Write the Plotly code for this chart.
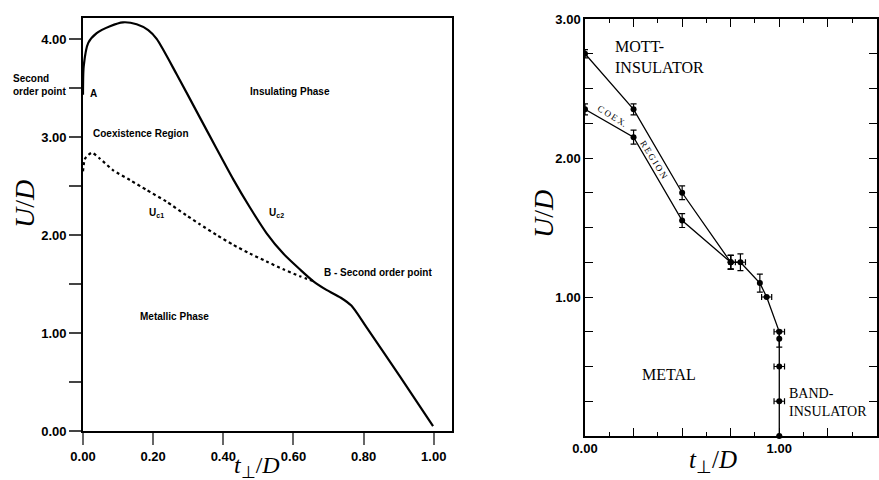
import plotly.graph_objects as go

# ---------------- data: left panel ----------------
uc2_t = [0, 0.002, 0.015, 0.039, 0.077, 0.114, 0.153, 0.186, 0.21, 0.267, 0.333, 0.381, 0.428,
         0.476, 0.523, 0.571, 0.618, 0.656, 0.694, 0.735, 0.765, 0.808, 0.903, 0.998]
uc2_U = [3.43, 3.72, 3.96, 4.06, 4.13, 4.17, 4.15, 4.09, 4.00, 3.64, 3.20, 2.88, 2.57,
         2.28, 2.02, 1.81, 1.65, 1.53, 1.44, 1.36, 1.28, 1.06, 0.56, 0.05]
uc1_t = [0, 0.006, 0.025, 0.048, 0.086, 0.134, 0.181, 0.238, 0.295, 0.333, 0.381, 0.428,
         0.476, 0.523, 0.571, 0.618, 0.656]
uc1_U = [2.65, 2.78, 2.84, 2.78, 2.66, 2.56, 2.46, 2.34, 2.20, 2.11, 2.00, 1.90,
         1.81, 1.73, 1.65, 1.58, 1.53]
left_xticks = [0, 0.2, 0.4, 0.6, 0.8, 1.0]
left_xlabels = ["0.00", "0.20", "0.40", "0.60", "0.80", "1.00"]
left_yticks = [0, 0.5, 1, 1.5, 2, 2.5, 3, 3.5, 4]
left_ylabels = ["0.00", "", "1.00", "", "2.00", "", "3.00", "", "4.00"]

# ---------------- data: right panel ----------------
up_t = [0, 0.25, 0.5, 0.75]
up_U = [2.75, 2.35, 1.75, 1.25]
up_err = [0.03, 0.04, 0.05, 0.05]
lo_t = [0, 0.25, 0.5, 0.75]
lo_U = [2.35, 2.15, 1.55, 1.25]
lo_err = [0.04, 0.05, 0.05, 0.05]
co_t = [0.75, 0.80, 0.90, 0.935, 1.0, 1.0, 1.0, 1.0, 1.0]
co_U = [1.25, 1.25, 1.10, 1.00, 0.75, 0.70, 0.50, 0.25, 0.0]
co_yerr = [0.05, 0.06, 0.065, 0, 0, 0.06, 0, 0, 0]
co_xerr = [0, 0.026, 0, 0.026, 0.027, 0, 0.027, 0.027, 0]
right_xticks = [0, 0.25, 0.5, 0.75, 1.0, 1.25, 1.5]
right_xlabels = ["0.00", "", "", "", "1.00", "", ""]
right_yticks = [0, 0.25, 0.5, 0.75, 1.0, 1.25, 1.5, 1.75, 2.0, 2.25, 2.5, 2.75, 3.0]
right_ylabels = ["", "", "", "", "1.00", "", "", "", "2.00", "", "", "", "3.00"]

W, H = 879, 480
SANS = "Liberation Sans, Arial, sans-serif"
SERIF = "Liberation Serif, Times New Roman, serif"


def px(x, y):
    return x / W, 1 - y / H


fig = go.Figure()

# left panel curves
fig.add_trace(go.Scatter(x=uc2_t, y=uc2_U, mode="lines", xaxis="x", yaxis="y",
                         line=dict(color="black", width=2.2, shape="spline", smoothing=0.7),
                         showlegend=False, hoverinfo="skip"))
fig.add_trace(go.Scatter(x=uc1_t, y=uc1_U, mode="lines", xaxis="x", yaxis="y",
                         line=dict(color="black", width=2.2, dash="dot", shape="spline", smoothing=0.6),
                         showlegend=False, hoverinfo="skip"))

# right panel
eb = dict(color="black", thickness=1.2, width=3)
fig.add_trace(go.Scatter(x=up_t, y=up_U, mode="lines+markers", xaxis="x2", yaxis="y2",
                         line=dict(color="black", width=1.3),
                         marker=dict(color="black", size=6),
                         error_y=dict(type="data", array=up_err, visible=True, **eb),
                         showlegend=False, hoverinfo="skip"))
fig.add_trace(go.Scatter(x=lo_t, y=lo_U, mode="lines+markers", xaxis="x2", yaxis="y2",
                         line=dict(color="black", width=1.3),
                         marker=dict(color="black", size=6),
                         error_y=dict(type="data", array=lo_err, visible=True, **eb),
                         showlegend=False, hoverinfo="skip"))
fig.add_trace(go.Scatter(x=co_t, y=co_U, mode="lines+markers", xaxis="x2", yaxis="y2",
                         line=dict(color="black", width=1.3),
                         marker=dict(color="black", size=6),
                         error_y=dict(type="data", array=co_yerr, visible=True, **eb),
                         error_x=dict(type="data", array=co_xerr, visible=True, **eb),
                         showlegend=False, hoverinfo="skip", cliponaxis=False))

tickfont = dict(family=SANS, size=13, color="black")

fig.update_layout(
    width=W, height=H,
    margin=dict(l=0, r=0, t=0, b=0, autoexpand=False),
    paper_bgcolor="white", plot_bgcolor="white",
    xaxis=dict(domain=[83 / W, 452 / W], range=[0, 1.052], anchor="y", automargin=False,
               tickvals=left_xticks, ticktext=["<b>%s</b>" % s for s in left_xlabels],
               ticks="outside", ticklen=12, tickwidth=1.5, tickcolor="#666",
               showline=True, linecolor="black", linewidth=1.8, mirror=True,
               showgrid=False, zeroline=False, tickfont=tickfont),
    yaxis=dict(domain=[1 - 431 / H, 1 - 18 / H], range=[0, 4.214], anchor="x", automargin=False,
               tickvals=left_yticks,
               ticktext=["<b>%s</b>" % s if s else " " for s in left_ylabels],
               ticks="outside", ticklen=12, tickwidth=1.5, tickcolor="#444",
               showline=True, linecolor="black", linewidth=1.8, mirror=True,
               showgrid=False, zeroline=False, tickfont=tickfont),
    xaxis2=dict(domain=[585 / W, 877 / W], range=[0, 1.503], anchor="y2", automargin=False,
                tickvals=right_xticks,
                ticktext=["<b>%s</b>" % s if s else " " for s in right_xlabels],
                ticks="inside", ticklen=8, tickwidth=1.2, tickcolor="black",
                minor=dict(dtick=0.125, tick0=0, ticks="inside", ticklen=4, tickwidth=1.2,
                           tickcolor="black", showgrid=False),
                showline=True, linecolor="black", linewidth=1.5, mirror="ticks",
                showgrid=False, zeroline=False, tickfont=tickfont),
    yaxis2=dict(domain=[1 - 436 / H, 1 - 19 / H], range=[0, 3.0], anchor="x2", automargin=False,
                tickvals=right_yticks,
                ticktext=["<b>%s</b>" % s if s else " " for s in right_ylabels],
                ticks="inside", ticklen=8, tickwidth=1.2, tickcolor="black",
                showline=True, linecolor="black", linewidth=1.5, mirror="ticks",
                showgrid=False, zeroline=False, tickfont=tickfont),
)

ann = []


def add(text, x, y, size=10, family=SANS, xanchor="left", yanchor="middle", angle=0, bold=False, align="left"):
    t = text
    if bold:
        t = "<b>%s</b>" % t
    xx, yy = px(x, y)
    ann.append(dict(text=t, x=xx, y=yy, xref="paper", yref="paper", showarrow=False,
                    xanchor=xanchor, yanchor=yanchor, textangle=angle, align=align,
                    font=dict(family=family, size=size, color="black")))


# axis titles
add("<i>U</i>/<i>D</i>", 24, 204, size=28, family=SERIF, xanchor="center", angle=-90, align="center")
add("<i>t</i><sub>⊥</sub>/<i>D</i>", 257, 467, size=24, family=SERIF, xanchor="center", align="center")
add("<i>U</i>/<i>D</i>", 543, 214, size=28, family=SERIF, xanchor="center", angle=-90, align="center")
add("<i>t</i><sub>⊥</sub>/<i>D</i>", 713, 461, size=25, family=SERIF, xanchor="center", align="center")

# left panel labels
add("Second<br>order point", 68, 85, size=10, xanchor="right", bold=True)
add("A", 88, 94, size=10, bold=True)
add("Insulating Phase", 248, 91, size=10, bold=True)
add("Coexistence Region", 91, 133, size=10, bold=True)
add("U<sub>c1</sub>", 147, 213, size=10, bold=True)
add("U<sub>c2</sub>", 267, 213, size=10, bold=True)
add("B - Second order point", 322, 272, size=10, bold=True)
add("Metallic Phase", 138, 316, size=10, bold=True)

# right panel labels
add("MOTT-<br>INSULATOR", 613, 57, size=16, family=SERIF)
add("METAL", 640, 374, size=16, family=SERIF)
add("BAND-<br>INSULATOR", 787, 402, size=14, family=SERIF)
add("C\u2009O\u2009E\u2009X.", 612, 116, size=9, family=SERIF, xanchor="center", angle=32)
add("R\u2009E\u2009G\u2009I\u2009O\u2009N", 654, 160, size=9, family=SERIF, xanchor="center", angle=58)

fig.update_layout(annotations=ann)
fig.write_html("out.html", config={"displayModeBar": False},
               post_script="document.body.style.margin='0px';document.body.style.padding='0px';")
